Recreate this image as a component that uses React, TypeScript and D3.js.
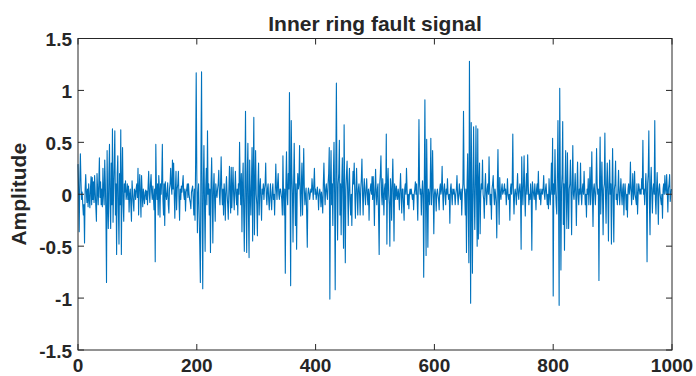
import React, { useEffect, useRef } from 'react';
import * as d3 from 'd3';

// signal samples, 20 per row (index = sample number)
const amplitude: number[] = [
  0.29, 0.05, -0.36, 0.1, 0.39, 0.12, -0.05, 0.02, -0.1, -0.2, -0.1, -0.47, 0.05, 0.19, 0.02, -0.08, 0.05, -0.12, 0.1, -0.05,
  -0.13, 0.06, 0.17, -0.1, 0.16, -0.05, 0.12, -0.08, 0.18, 0.02, -0.12, -0.26, 0.2, 0.05, -0.1, 0.1, 0.35, -0.03, 0.12, -0.1,
  0.05, -0.12, 0.25, 0.0, -0.1, 0.33, 0.1, -0.2, -0.85, 0.42, -0.1, -0.33, 0.2, 0.48, -0.1, -0.33, 0.3, -0.1, 0.63, -0.27,
  0.05, 0.3, 0.61, -0.2, 0.1, -0.58, 0.2, 0.37, -0.15, -0.48, 0.2, -0.1, 0.62, -0.58, 0.1, 0.45, -0.1, -0.26, 0.1, 0.02,
  0.13, -0.05, 0.0, 0.1, -0.05, 0.08, -0.17, 0.0, 0.05, -0.1, -0.26, 0.13, 0.02, -0.08, -0.16, 0.05, 0.03, -0.05, 0.06, 0.1,
  -0.03, 0.25, -0.2, 0.05, 0.19, 0.0, -0.22, 0.18, 0.02, -0.12, 0.05, -0.03, -0.09, 0.02, 0.04, -0.05, 0.03, -0.1, 0.08, 0.22,
  0.0, -0.08, 0.1, 0.19, 0.02, -0.05, 0.08, -0.03, -0.15, 0.05, -0.65, 0.48, 0.05, -0.05, 0.1, -0.2, 0.18, 0.05, -0.22, 0.1,
  0.0, 0.15, 0.48, -0.05, -0.2, 0.1, -0.3, 0.12, 0.02, -0.05, 0.0, 0.11, -0.1, -0.18, 0.05, 0.1, 0.25, 0.08, 0.0, 0.33,
  0.05, 0.3, 0.0, -0.23, 0.05, 0.22, -0.15, 0.05, 0.1, 0.22, -0.05, -0.25, 0.05, -0.05, 0.08, 0.02, 0.1, 0.18, 0.0, -0.05,
  0.05, -0.16, 0.02, 0.05, 0.1, -0.03, 0.1, 0.0, -0.05, -0.08, -0.14, 0.02, 0.05, 0.08, -0.05, -0.2, 0.05, -0.25, 0.3, 1.17,
  0.2, -0.37, 0.0, 0.1, -0.2, -0.5, -0.85, 0.4, 1.18, -0.2, -0.91, 0.1, 0.47, -0.1, -0.55, 0.05, 0.25, -0.1, 0.61, 0.0,
  0.1, -0.2, 0.05, -0.56, 0.1, 0.35, 0.0, -0.47, 0.05, 0.2, -0.05, -0.26, 0.1, 0.02, -0.03, 0.05, 0.1, 0.23, 0.0, -0.1,
  0.1, 0.36, 0.05, -0.1, 0.05, -0.2, 0.1, 0.0, -0.25, 0.05, 0.17, 0.0, -0.1, -0.24, 0.05, 0.27, 0.0, -0.18, 0.26, -0.13,
  0.05, 0.26, 0.0, -0.15, 0.05, 0.22, 0.0, -0.1, 0.05, -0.2, 0.1, 0.0, 0.5, 0.1, -0.1, 0.2, -0.36, 0.1, 0.3, -0.2,
  -0.55, 0.1, 0.8, -0.1, -0.56, 0.2, 0.49, -0.2, -0.61, 0.33, 0.0, -0.2, 0.1, 0.45, -0.45, 0.2, 0.74, -0.39, 0.05, 0.42,
  0.0, -0.1, -0.4, 0.1, 0.3, -0.2, 0.05, 0.15, -0.05, -0.25, 0.05, 0.0, 0.1, -0.05, 0.05, 0.1, 0.3, -0.02, -0.1, 0.05,
  0.1, -0.05, -0.15, 0.0, 0.1, -0.05, -0.15, 0.02, 0.1, -0.05, 0.0, -0.2, 0.05, 0.29, 0.05, -0.05, 0.1, 0.2, 0.0, -0.05,
  0.05, 0.05, 0.0, -0.05, -0.2, 0.37, 0.0, -0.2, 0.05, -0.76, 0.1, 0.41, 0.0, -0.1, 0.2, 0.05, 0.98, 0.1, -0.88, 0.71,
  0.2, 0.0, -0.46, 0.1, 0.49, 0.05, -0.3, 0.1, -0.53, 0.0, 0.2, 0.05, 0.1, 0.47, 0.0, -0.21, 0.1, 0.3, -0.2, 0.1,
  0.44, 0.05, -0.1, 0.0, 0.06, -0.2, -0.51, 0.0, 0.06, 0.02, -0.05, 0.0, 0.05, 0.02, 0.15, 0.05, -0.05, 0.1, 0.25, 0.0,
  0.05, -0.05, 0.0, 0.07, 0.0, -0.15, 0.0, 0.05, 0.0, -0.12, 0.02, -0.05, -0.18, 0.1, 0.3, 0.05, -0.1, 0.05, 0.1, 0.0,
  -0.05, 0.1, 0.2, 0.45, -1.01, 0.1, 0.42, -0.1, 0.1, -0.3, 0.2, 0.5, 0.0, -0.92, 0.2, 1.07, 0.1, -0.44, 0.1, 0.2,
  0.52, -0.2, 0.1, -0.39, 0.1, 0.35, 0.0, -0.52, 0.67, 0.0, -0.66, 0.05, 0.2, 0.32, 0.0, -0.3, 0.1, 0.25, -0.05, -0.2,
  0.0, -0.3, 0.05, 0.22, 0.1, 0.3, 0.0, -0.23, 0.05, 0.25, 0.0, -0.2, 0.05, 0.1, 0.0, -0.2, 0.05, 0.15, 0.34, 0.0,
  -0.2, 0.05, 0.15, 0.0, -0.1, 0.05, 0.15, 0.0, -0.1, 0.05, -0.25, 0.0, 0.05, 0.1, 0.0, 0.17, -0.05, 0.17, 0.0, -0.3,
  0.05, 0.24, 0.0, -0.1, 0.05, 0.1, -0.2, -0.58, 0.1, 0.2, 0.37, 0.0, -0.1, 0.15, 0.0, -0.2, 0.05, 0.1, -0.05, 0.58,
  -0.48, 0.1, 0.25, 0.0, -0.1, -0.5, 0.15, 0.05, -0.25, 0.1, 0.34, 0.0, -0.45, 0.1, 0.05, -0.05, 0.08, 0.0, -0.05, 0.05,
  0.0, -0.15, 0.05, 0.2, 0.0, -0.18, 0.05, 0.05, -0.1, -0.25, 0.05, 0.1, 0.0, 0.25, 0.05, -0.1, 0.0, -0.14, 0.0, 0.05,
  0.0, 0.05, 0.0, -0.05, 0.0, -0.15, 0.0, 0.05, 0.12, 0.0, 0.1, -0.05, -0.25, 0.1, 0.72, 0.1, 0.0, 0.05, -0.2, 0.0,
  0.13, 0.0, -0.8, 0.1, 0.91, 0.0, -0.59, 0.53, 0.0, -0.51, 0.05, 0.0, -0.1, 0.1, 0.54, -0.1, 0.05, 0.42, 0.0, -0.38,
  0.0, 0.05, 0.0, -0.16, 0.0, 0.05, 0.0, -0.05, -0.15, 0.05, 0.1, 0.0, 0.05, 0.27, 0.0, -0.15, 0.05, 0.1, 0.0, -0.1,
  0.05, 0.0, 0.15, 0.0, -0.05, 0.0, -0.28, 0.05, 0.1, 0.0, -0.1, 0.05, 0.0, 0.05, 0.0, -0.1, 0.0, 0.05, 0.18, 0.0,
  -0.1, 0.0, 0.1, 0.0, -0.05, 0.05, -0.2, 0.0, 0.1, 0.8, 0.1, 0.0, -0.2, 0.05, -0.56, 0.1, 0.39, -0.1, -0.66, 1.28,
  0.2, -1.05, 0.69, 0.0, -0.76, 0.1, 0.65, 0.0, -0.34, 0.1, 0.66, 0.0, -0.5, 0.63, -0.43, 0.1, 0.3, -0.38, 0.0, 0.1,
  0.05, 0.33, 0.0, -0.05, -0.23, 0.05, 0.2, 0.0, -0.1, 0.05, 0.1, 0.0, 0.36, 0.05, -0.1, 0.0, -0.24, 0.05, 0.1, 0.18,
  0.0, -0.1, 0.05, 0.0, -0.1, -0.42, 0.1, 0.43, 0.0, -0.29, 0.16, 0.0, -0.05, 0.05, 0.1, 0.0, 0.02, 0.05, 0.1, 0.0,
  0.05, -0.1, 0.0, 0.15, 0.0, -0.05, 0.0, -0.25, 0.05, 0.1, 0.0, 0.1, 0.58, 0.0, -0.19, 0.0, 0.05, 0.0, -0.1, 0.05,
  0.2, 0.0, -0.05, 0.05, 0.1, 0.0, -0.53, 0.36, 0.05, -0.1, 0.1, 0.37, 0.0, -0.21, 0.05, 0.2, 0.0, 0.38, 0.1, -0.1,
  0.0, -0.05, 0.1, 0.0, -0.54, 0.12, 0.05, 0.0, -0.05, 0.1, 0.0, -0.15, 0.05, 0.1, 0.0, 0.22, 0.0, -0.05, 0.05, -0.1,
  0.0, 0.05, 0.0, 0.05, 0.18, 0.0, -0.05, 0.05, 0.1, 0.0, -0.1, 0.0, -0.14, 0.15, 0.0, -0.1, 0.05, 0.3, 0.0, 0.54,
  -0.98, 0.1, 0.0, 0.43, 0.05, -0.1, -0.19, 0.2, 0.71, 0.0, -1.07, 1.02, 0.1, -0.73, 0.05, 0.2, 0.7, -0.29, 0.1, -0.54,
  0.1, 0.42, 0.0, -0.33, 0.4, 0.0, -0.33, 0.05, 0.1, 0.33, 0.0, -0.39, 0.1, 0.47, 0.0, -0.05, 0.05, 0.2, 0.0, -0.3,
  0.05, 0.31, 0.0, -0.1, 0.05, 0.0, 0.3, 0.0, -0.1, 0.05, 0.1, 0.0, 0.22, 0.05, -0.1, 0.0, -0.22, 0.05, 0.0, 0.15,
  -0.1, 0.05, 0.26, -0.1, 0.05, 0.41, 0.0, -0.31, 0.05, 0.1, 0.0, -0.1, 0.05, 0.44, 0.1, 0.0, 0.05, -0.83, 0.1, 0.55,
  -0.19, 0.05, 0.31, 0.0, -0.39, 0.05, 0.1, 0.59, 0.0, -0.28, 0.1, 0.3, 0.0, -0.45, 0.1, 0.33, 0.0, 0.1, -0.48, 0.05,
  0.44, 0.0, -0.46, 0.05, 0.1, 0.32, -0.05, 0.0, -0.1, 0.05, 0.23, 0.0, -0.1, 0.05, 0.15, 0.0, -0.1, 0.05, 0.1, -0.2,
  0.0, 0.1, 0.0, -0.15, 0.0, -0.22, 0.05, 0.1, 0.0, 0.05, 0.31, 0.05, -0.1, 0.05, 0.2, -0.05, 0.0, 0.22, 0.0, -0.05,
  -0.1, 0.1, -0.19, 0.0, 0.1, 0.05, 0.0, 0.05, 0.0, 0.15, 0.05, 0.52, 0.0, 0.05, -0.1, 0.05, 0.2, 0.0, -0.65, 0.1,
  0.2, 0.61, -0.1, -0.39, 0.1, 0.26, 0.0, -0.18, 0.05, 0.1, 0.0, 0.71, -0.05, -0.19, 0.05, 0.21, 0.0, -0.29, 0.05, 0.1,
  0.0, -0.05, -0.1, 0.0, -0.23, 0.05, 0.1, 0.0, 0.18, 0.05, 0.0, 0.19, 0.05, -0.17, 0.05, 0.1, 0.19, -0.07, 0.0, 0.05,
];

const xTicks = [0, 200, 400, 600, 800, 1000];
const yTicks = [-1.5, -1, -0.5, 0, 0.5, 1, 1.5];
const title = 'Inner ring fault signal';
const yLabel = 'Amplitude';

const W = 696;
const H = 376;
const margin = { top: 38.5, right: 24, bottom: 26, left: 78 };
const font = 'Arial, "Liberation Sans", Helvetica, sans-serif';
const axisColor = '#262626';

export default function App() {
  const svgRef = useRef<SVGSVGElement>(null);

  useEffect(() => {
    const svg = d3.select(svgRef.current);
    svg.selectAll('*').remove();

    const x0 = margin.left;
    const x1 = W - margin.right;
    const y0 = margin.top;
    const y1 = H - margin.bottom;

    const x = d3.scaleLinear().domain([0, 1000]).range([x0, x1]);
    const y = d3.scaleLinear().domain([-1.5, 1.5]).range([y1, y0]);

    // the signal
    const line = d3
      .line<number>()
      .x((_, i) => x(i))
      .y((d) => y(d));

    svg
      .append('path')
      .datum(amplitude)
      .attr('d', line)
      .attr('fill', 'none')
      .attr('stroke', '#0072BD')
      .attr('stroke-width', 1.1)
      .attr('stroke-linejoin', 'round');

    // box
    svg
      .append('rect')
      .attr('x', x0)
      .attr('y', y0)
      .attr('width', x1 - x0)
      .attr('height', y1 - y0)
      .attr('fill', 'none')
      .attr('stroke', axisColor)
      .attr('stroke-width', 1);

    const tickLen = 6;
    const ticks = svg.append('g').attr('stroke', axisColor).attr('stroke-width', 1);

    xTicks.forEach((t) => {
      ticks.append('line').attr('x1', x(t)).attr('x2', x(t)).attr('y1', y1).attr('y2', y1 - tickLen);
      ticks.append('line').attr('x1', x(t)).attr('x2', x(t)).attr('y1', y0).attr('y2', y0 + tickLen);
    });
    yTicks.forEach((t) => {
      ticks.append('line').attr('x1', x0).attr('x2', x0 + tickLen).attr('y1', y(t)).attr('y2', y(t));
      ticks.append('line').attr('x1', x1).attr('x2', x1 - tickLen).attr('y1', y(t)).attr('y2', y(t));
    });

    // tick labels
    const tickText = svg.append('g').attr('font-size', 19);

    tickText
      .selectAll('text.xt')
      .data(xTicks)
      .enter()
      .append('text')
      .attr('class', 'xt')
      .attr('x', (d) => x(d))
      .attr('y', y1 + 21.5)
      .attr('text-anchor', 'middle')
      .text((d) => d3.format('d')(d));

    tickText
      .selectAll('text.yt')
      .data(yTicks)
      .enter()
      .append('text')
      .attr('class', 'yt')
      .attr('x', x0 - 6)
      .attr('y', (d) => y(d))
      .attr('dy', '0.42em')
      .attr('text-anchor', 'end')
      .text((d) => String(d));

    // title and y label
    svg
      .append('text')
      .attr('x', (x0 + x1) / 2)
      .attr('y', 30.5)
      .attr('text-anchor', 'middle')
      .attr('font-size', 21)
      .text(title);

    svg
      .append('text')
      .attr('transform', `translate(26,${(y0 + y1) / 2}) rotate(-90)`)
      .attr('text-anchor', 'middle')
      .attr('font-size', 21)
      .text(yLabel);

    svg
      .selectAll('text')
      .attr('font-family', font)
      .attr('font-weight', 'bold')
      .attr('fill', axisColor);
  }, []);

  return (
    <svg
      ref={svgRef}
      width={W}
      height={H}
      style={{ position: 'absolute', left: 0, top: 0, background: '#fff' }}
    />
  );
}
